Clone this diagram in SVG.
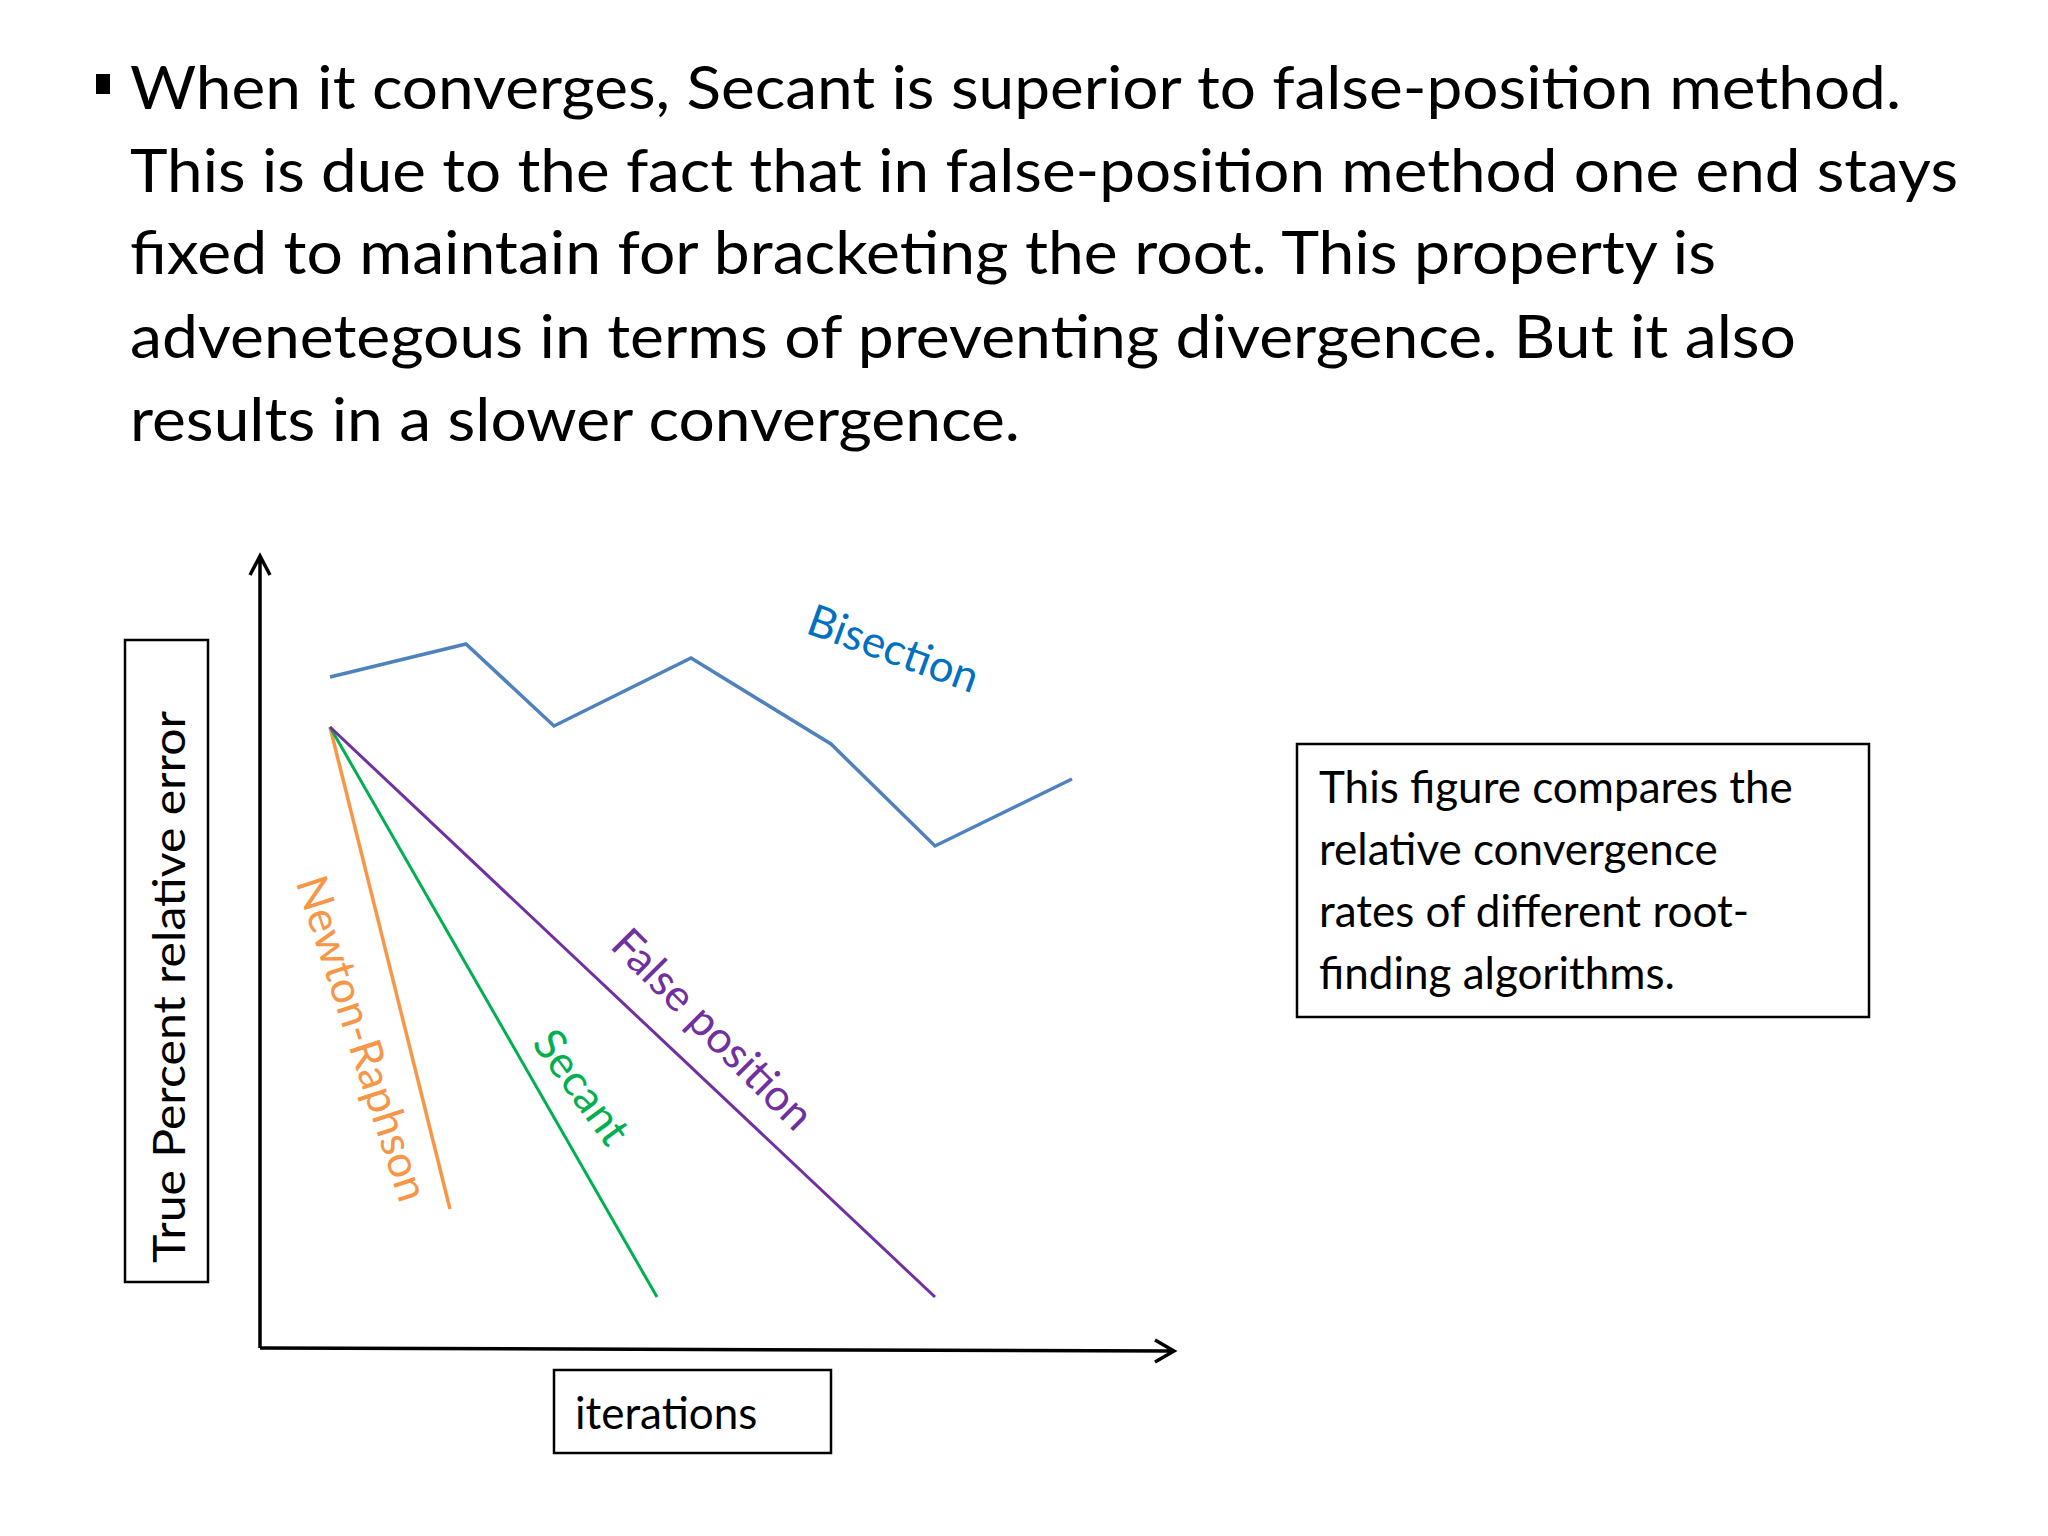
<svg xmlns="http://www.w3.org/2000/svg" width="2048" height="1536" viewBox="0 0 2048 1536">
<style>
text{font-family:Lato,"Open Sans","Liberation Sans",sans-serif;}
.main{font-size:60px;fill:#000}
.lbl{font-size:44px}
.box{fill:none;stroke:#000;stroke-width:2.5}
.ax{stroke:#000;stroke-width:3.5;fill:none}
</style>
<rect width="2048" height="1536" fill="#fff"/>
<g id="title">
<rect x="96" y="74" width="14" height="20" fill="#000"/>
<text class="main" x="130" y="109" textLength="1771" lengthAdjust="spacingAndGlyphs">When it converges, Secant is superior to false-position method.</text>
<text class="main" x="130" y="192" textLength="1828" lengthAdjust="spacingAndGlyphs">This is due to the fact that in false-position method one end stays</text>
<text class="main" x="130" y="274" textLength="1586" lengthAdjust="spacingAndGlyphs">fixed to maintain for bracketing the root. This property is</text>
<text class="main" x="130" y="358" textLength="1666" lengthAdjust="spacingAndGlyphs">advenetegous in terms of preventing divergence. But it also</text>
<text class="main" x="130" y="441" textLength="890" lengthAdjust="spacingAndGlyphs">results in a slower convergence.</text>
</g>
<g id="connectors">
<path class="ax" d="M260,1348 V556 M250,575 L260,556 L270,575"/>
<path class="ax" d="M260,1348 L1174,1351 M1155,1340 L1174,1351 L1155,1362"/>
<polyline points="330,677 466,644 554,726 691,658 831,744 935,846 1072,779" fill="none" stroke="#4f81bd" stroke-width="3.5"/>
<line x1="330" y1="727" x2="450" y2="1209" stroke="#f79646" stroke-width="3.5"/>
<line x1="330" y1="727" x2="657" y2="1297" stroke="#00b050" stroke-width="3"/>
<line x1="330" y1="727" x2="935" y2="1297" stroke="#7030a0" stroke-width="3"/>
</g>
<g id="ylabel">
<rect class="box" x="125" y="640" width="83" height="642"/>
<text class="lbl" transform="translate(168,987) rotate(-90)" text-anchor="middle" dominant-baseline="central" textLength="552" lengthAdjust="spacingAndGlyphs" font-size="40">True Percent relative error</text>
</g>
<g id="xlabel">
<rect class="box" x="554" y="1370" width="277" height="83"/>
<text class="lbl" x="575" y="1429">iterations</text>
</g>
<g id="note">
<rect class="box" x="1297" y="744" width="572" height="273"/>
<text class="lbl" x="1319" y="803">This figure compares the</text>
<text class="lbl" x="1319" y="865">relative convergence</text>
<text class="lbl" x="1319" y="927">rates of different root-</text>
<text class="lbl" x="1319" y="989">finding algorithms.</text>
</g>
<g id="labels">
<text class="lbl" fill="#0070c0" transform="translate(894,647) rotate(20)" text-anchor="middle" dominant-baseline="central">Bisection</text>
<text class="lbl" fill="#f79646" transform="translate(364,1038) rotate(72)" text-anchor="middle" dominant-baseline="central">Newton-Raphson</text>
<text class="lbl" fill="#00b050" transform="translate(583,1086) rotate(54)" text-anchor="middle" dominant-baseline="central">Secant</text>
<text class="lbl" fill="#7030a0" transform="translate(714,1028) rotate(45)" text-anchor="middle" dominant-baseline="central">False position</text>
</g>
</svg>
